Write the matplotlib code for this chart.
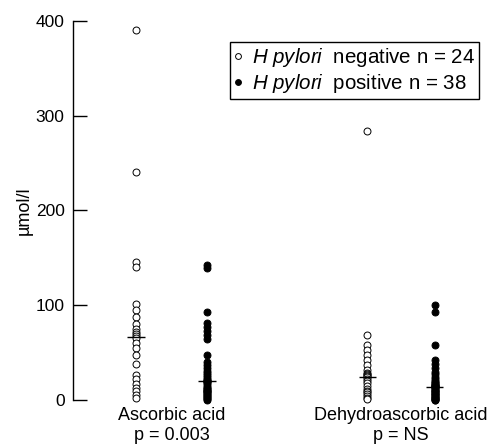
import matplotlib
matplotlib.use("Agg")
import matplotlib.pyplot as plt
from matplotlib.lines import Line2D
import numpy as np

plt.rcParams["font.family"] = ["Liberation Sans", "DejaVu Sans"]
plt.rcParams["mathtext.fontset"] = "custom"
plt.rcParams["mathtext.it"] = "Liberation Sans:italic"
plt.rcParams["mathtext.rm"] = "Liberation Sans"

# values (umol/l)
aa_neg = [390, 241, 146, 140, 101, 95, 88, 80, 75, 72, 70, 68, 65, 60, 55, 48,
          38, 26, 22, 17, 13, 9, 5, 2]
aa_pos = [143, 139, 93, 81, 77, 73, 69, 64, 48, 40, 37, 34, 31, 28, 26, 24, 22,
          21, 20, 20, 19, 18, 16, 14, 13, 12, 11, 10, 9, 8, 7, 6, 5, 4, 3, 2, 1, 0]
dha_neg = [284, 69, 58, 53, 47, 42, 37, 32, 28, 27, 26, 25, 24, 22, 20, 18, 15,
           12, 10, 8, 6, 4, 2, 1]
dha_pos = [100, 93, 58, 42, 38, 34, 30, 27, 24, 22, 20, 19, 18, 17, 16, 15.5, 15,
           14.5, 14, 14, 13, 12, 11, 10, 9, 8, 7, 6.5, 6, 5, 4, 3.5, 3, 2, 1.5, 1,
           0.5, 0]

groups = ["Ascorbic acid\np = 0.003", "Dehydroascorbic acid\np = NS"]
legend_labels = [r"$\it{H\ pylori}$  negative n = 24",
                 r"$\it{H\ pylori}$  positive n = 38"]

positions = [1.0, 2.0, 4.254, 5.211]
series = [aa_neg, aa_pos, dha_neg, dha_pos]
filled = [False, True, False, True]

fig = plt.figure(figsize=(4.88, 4.47), dpi=100)
ax = fig.add_axes([73 / 488, 47 / 447, 415 / 488, 379 / 447])

for x, vals, fill in zip(positions, series, filled):
    vals = np.asarray(vals, dtype=float)
    ax.plot(np.full(len(vals), x), vals, "o", ms=5, mew=0.7,
            mec="black", mfc="black" if fill else "white",
            linestyle="none", clip_on=False, zorder=3)
    med = np.median(vals)
    ax.hlines(med, x - 0.12, x + 0.12, color="black", lw=1.0, zorder=4)

ax.set_xlim(0.1127, 5.958)
ax.set_ylim(0, 400)
ax.set_yticks([0, 100, 200, 300, 400])
ax.tick_params(axis="y", direction="in", length=10, width=1, pad=6,
               labelsize=12.5)
ax.set_xticks([1.5, (positions[2] + positions[3]) / 2])
ax.set_xticklabels(groups, fontsize=13, linespacing=1.2)
ax.tick_params(axis="x", length=0, pad=5)
for s in ["top", "right", "bottom"]:
    ax.spines[s].set_visible(False)
ax.spines["left"].set_linewidth(1)
ax.set_ylabel("µmol/l", fontsize=13, labelpad=2)

handles = [
    Line2D([], [], marker="o", ls="none", ms=4.2, mew=0.7, mec="black", mfc="white"),
    Line2D([], [], marker="o", ls="none", ms=4.2, mew=0.7, mec="black", mfc="black"),
]
leg = ax.legend(handles, legend_labels, loc="upper right",
                bbox_to_anchor=(479 / 488, 1 - 42 / 447),
                bbox_transform=fig.transFigure, borderaxespad=0,
                fancybox=False, framealpha=1, edgecolor="black",
                fontsize=14.8, handlelength=0.4, handletextpad=0.45,
                borderpad=0.2, labelspacing=0.15)
leg.get_frame().set_linewidth(1)

fig.savefig("out.png", dpi=100)
